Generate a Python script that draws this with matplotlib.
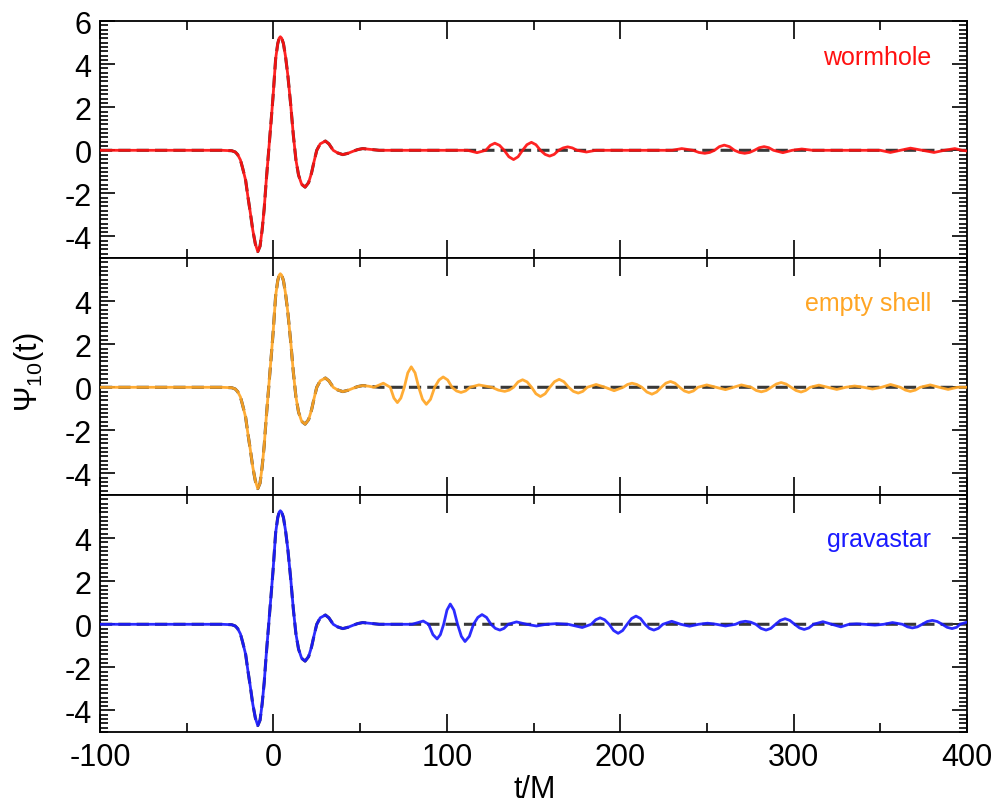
import numpy as np
import matplotlib.pyplot as plt
from matplotlib.ticker import MultipleLocator

# ---- data ----
# common merger pulse (black-hole signal, also the start of every curve)
t_pulse = [-100, -30, -24, -22, -20.6, -19, -17.7, -16, -14.8, -13.3, -11.9, -10.4,
           -9.0, -7.7, -6.5, -5.3, -4.2, -2.7, -1.3, -0.2, 1.3, 2.5, 3.3, 4.0, 4.8,
           5.8, 7.0, 8.3, 10.0, 11.5, 13.0, 14.5, 16.3, 18.3, 20.3, 22.0, 23.5, 25.0,
           27, 30, 32, 34.5, 37, 40, 43, 45.8, 48.5, 51.5, 55]
psi_pulse = [0, 0, -0.02, -0.08, -0.2, -0.45, -0.84, -1.4, -2.1, -2.9, -3.7, -4.35,
             -4.7, -4.45, -3.7, -2.7, -1.48, 0, 1.38, 2.5, 4.25, 4.95, 5.2, 5.27, 5.2,
             4.95, 4.35, 3.5, 2.1, 0.7, -0.45, -1.15, -1.58, -1.71, -1.5, -1.05, -0.5, 0,
             0.3, 0.43, 0.3, 0.0, -0.12, -0.2, -0.14, -0.05, 0.03, 0.08, 0.05]
t_bh_tail = [61, 400]
psi_bh_tail = [0, 0]

t_wormhole = [61, 110, 112, 117.4, 122.5, 125.1, 127.7, 130.4, 133.1, 135.8, 138.5,
              141.1, 143.7, 146.2, 148.8, 151.4, 154, 156.7, 159.3, 161.9, 164.5,
              167.1, 169.7, 172.4, 175.1, 180.5, 186, 230, 235.5, 242, 245.4, 248.8,
              251.6, 254.4, 257.2, 260, 263, 265.9, 268.8, 271.8, 274.6, 277.4, 280.2,
              283, 285.7, 288.4, 293.8, 299.2, 304.7, 311, 350, 355.8, 361.6, 367.4,
              374.2, 381, 387, 393, 397, 400]
psi_wormhole = [0, 0, 0, -0.11, 0, 0.23, 0.33, 0.23, 0, -0.3, -0.43,
                -0.3, 0, 0.26, 0.37, 0.26, 0, -0.19, -0.27, -0.19, 0,
                0.11, 0.16, 0.11, 0, -0.08, 0, 0, 0.08, 0, -0.1, -0.14,
                -0.1, 0, 0.17, 0.24, 0.17, 0, -0.1, -0.14, -0.1, 0, 0.12,
                0.17, 0.12, 0, -0.11, 0, 0.06, 0, 0, -0.1, 0, 0.1,
                0, -0.1, 0, 0.08, 0, -0.03]

t_shell = [58, 63.4, 67.4, 69.5, 71.5, 73.5, 75.5, 77.5, 79.5, 81.7, 83.8, 86, 88.2,
           90.6, 93, 95.5, 97.9, 100.5, 103, 105.6, 108.2, 110.8, 113.4, 118.5, 126,
           129.7, 133.4, 136, 138.5, 141.1, 143.7, 146.3, 148.9, 151.4, 154, 156.7,
           159.4, 162.1, 164.8, 167.5, 170.3, 173, 175.8, 178.4, 181, 186.1, 191.3,
           196.5, 201.7, 204.2, 206.8, 209.6, 212.5, 215.4, 218.3, 221, 223.7, 226.3,
           229, 231.6, 234.3, 237, 239.6, 242.2, 244.8, 249.9, 255.3, 260.7, 265.3,
           269.9, 275.6, 278.5, 281.4, 284.2, 287.1, 290, 292.8, 295.7, 298.5, 301.4,
           304.3, 306.9, 309.5, 314.6, 319.8, 324.9, 330, 335.2, 340.4, 345.5, 350.7,
           355.9, 361.6, 364.5, 367.3, 370.2, 373, 378.8, 384, 389.1, 394.5, 400]
psi_shell = [0, 0.19, 0, -0.5, -0.71, -0.5, 0, 0.67, 0.95, 0.67, 0, -0.56, -0.79,
             -0.56, 0, 0.34, 0.48, 0.34, 0, -0.17, -0.24, -0.17, 0, 0.11, 0,
             -0.13, -0.19, -0.13, 0, 0.25, 0.35, 0.25, 0, -0.3, -0.43, -0.3,
             0, 0.26, 0.37, 0.26, 0, -0.19, -0.27, -0.19, 0, 0.13, 0,
             -0.16, 0, 0.13, 0.19, 0.13, 0, -0.22, -0.32, -0.22, 0, 0.19,
             0.27, 0.19, 0, -0.17, -0.24, -0.17, 0, 0.11, 0, -0.11, 0,
             0.11, 0, -0.15, -0.21, -0.15, 0, 0.15, 0.22, 0.15, 0, -0.15,
             -0.22, -0.15, 0, 0.1, 0, -0.1, 0, 0.06, 0, -0.08, 0,
             0.13, 0, -0.13, -0.19, -0.13, 0, 0.11, 0, -0.1, 0, 0]

t_gravastar = [61, 80, 86.4, 89.5, 92, 94.4, 96.3, 98.2, 100.1, 102, 104.1, 106.2,
               108.4, 110.5, 113, 115.4, 117.9, 120.3, 122.9, 125.5, 128, 130.6, 133,
               135.4, 140.2, 146, 151.7, 157.5, 163.2, 170, 178.1, 183.3, 185.9, 188.4,
               191, 193.6, 196.2, 198.8, 201.4, 204, 206.6, 209.1, 211.7, 214.3, 216.8,
               219.4, 222, 224.6, 229.7, 234.9, 240, 245.2, 250.4, 255.5, 260.7, 266.5,
               269.3, 272.2, 275.2, 278.2, 281.2, 284.1, 286.9, 289.6, 292.3, 295.1,
               297.8, 300.6, 303.4, 306.1, 308.8, 311.5, 316.9, 322, 327.2, 332, 336.4,
               341, 346.9, 352, 357, 362.8, 365.7, 368.5, 371.4, 374.2, 377.1, 380,
               382.8, 385.7, 388.5, 391.4, 394, 396, 400]
psi_gravastar = [0, 0, 0.15, 0, -0.48, -0.68, -0.48, 0, 0.66, 0.94, 0.66, 0,
                 -0.56, -0.8, -0.56, 0, 0.32, 0.45, 0.32, 0, -0.19, -0.27, -0.19,
                 0, 0.11, 0, -0.08, 0, 0.03, 0, -0.15, 0, 0.21, 0.3,
                 0.21, 0, -0.29, -0.42, -0.29, 0, 0.27, 0.38, 0.27, 0, -0.19,
                 -0.27, -0.19, 0, 0.14, 0, -0.09, 0, 0.05, 0, -0.08, 0,
                 0.1, 0.14, 0.1, 0, -0.19, -0.27, -0.19, 0, 0.18, 0.26,
                 0.18, 0, -0.17, -0.24, -0.17, 0, 0.12, 0, -0.12, 0, 0.02,
                 0, -0.04, 0, 0.08, 0, -0.12, -0.17, -0.12, 0, 0.13, 0.18,
                 0.13, 0, -0.14, -0.2, -0.14, 0, 0.1]

labels = ['wormhole', 'empty shell', 'gravastar']
colors = ['#ff1010', '#ffa524', '#1a1aff']
label_y = [4.33, 3.9, 3.95]

plt.rcParams['font.family'] = ['Liberation Sans', 'DejaVu Sans']
plt.rcParams['mathtext.fontset'] = 'custom'
plt.rcParams['mathtext.rm'] = 'Liberation Sans'
plt.rcParams['mathtext.it'] = 'Liberation Sans:italic'
plt.rcParams['axes.unicode_minus'] = False

fig, axes = plt.subplots(3, 1, figsize=(10, 8.04), dpi=100, sharex=True)
fig.subplots_adjust(left=0.100, right=0.967, top=0.9726, bottom=0.0883, hspace=0)

t_bh = np.array(t_pulse + t_bh_tail)
psi_bh = np.array(psi_pulse + psi_bh_tail)
echoes = [(t_wormhole, psi_wormhole), (t_shell, psi_shell), (t_gravastar, psi_gravastar)]

for i, ax in enumerate(axes):
    t_e, psi_e = echoes[i]
    t_all = np.array(t_pulse + t_e)
    psi_all = np.array(psi_pulse + psi_e)
    ax.plot(t_bh, psi_bh, color='#383838', lw=2.2, ls=(0, (4, 2)), zorder=2)
    ax.plot(t_all, psi_all, color=colors[i], lw=2.0, alpha=0.92, zorder=3)
    ax.text(379.5, label_y[i], labels[i], color=colors[i], fontsize=18,
            ha='right', va='center')

    ax.set_xlim(-100, 400)
    ax.set_ylim(-5, 6)
    if i == 0:
        ax.set_yticks([-4, -2, 0, 2, 4, 6])
    else:
        ax.set_yticks([-4, -2, 0, 2, 4])
    ax.yaxis.set_minor_locator(MultipleLocator(0.2))
    ax.xaxis.set_major_locator(MultipleLocator(100))
    ax.xaxis.set_minor_locator(MultipleLocator(50))
    ax.tick_params(which='both', direction='in', top=True, right=True,
                   labelsize=22, width=1.2)
    ax.tick_params(axis='x', which='major', length=13, pad=7)
    ax.tick_params(axis='x', which='minor', length=6.5)
    ax.tick_params(axis='y', which='major', length=11, pad=6)
    ax.tick_params(axis='y', which='minor', length=5.5)
    for s in ax.spines.values():
        s.set_linewidth(1.3)

fig.text(0.029, 0.537, r'$\mathrm{\Psi_{10}(t)}$', rotation=90, fontsize=22,
         ha='center', va='center')
fig.text(0.535, 0.017, 't/M', fontsize=22, ha='center', va='center')

plt.savefig('out.png', dpi=100)
